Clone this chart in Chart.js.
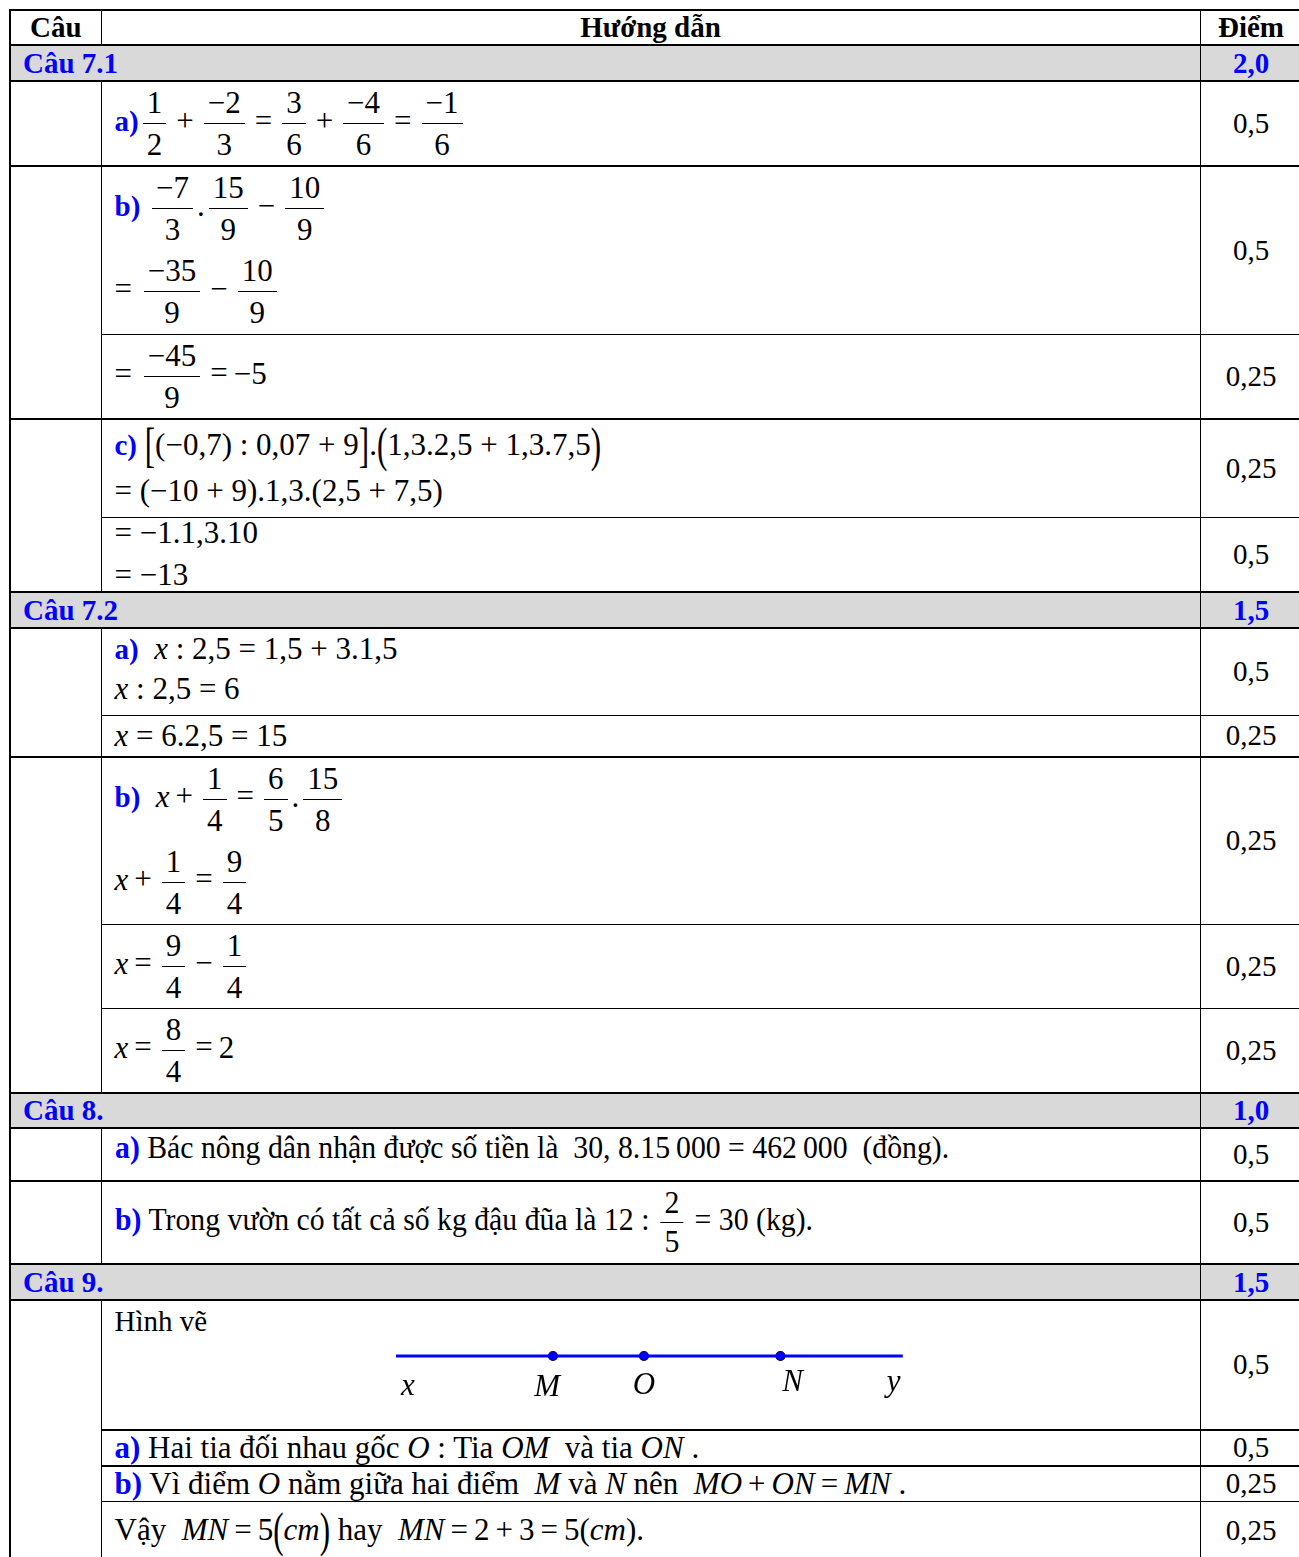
<!DOCTYPE html>
<html lang="vi">
<head>
  <meta charset="UTF-8" />
  <title>Hướng dẫn chấm</title>
  <script src="https://cdn.jsdelivr.net/npm/chart.js"></script>
  <style>
    body {
      margin: 0;
      font-family: "Liberation Serif", "Times New Roman", serif;
      font-size: 29px;
      color: #000;
      background: #fff;
    }

    table {
      position: absolute;
      left: 9px;
      top: 9px;
      width: 1292px;
      border-collapse: collapse;
      table-layout: fixed;
    }

    td {
      border: 1.5px solid #000;
      padding: 0 0 0 13px;
      vertical-align: middle;
      overflow: visible;
    }

    td.m { font-size: 31px; }

    td.pt {
      text-align: center;
      padding: 0;
    }

    tr.sec td {
      background: #d9d9d9;
      color: #0000ff;
      font-weight: bold;
      border-top: 2.5px solid #000;
      border-bottom: 2.5px solid #000;
      line-height: 30px;
      padding-left: 12px;
    }
    tr.sec td.pt { padding: 0; }

    tr.head td {
      font-weight: bold;
      text-align: center;
      border-top: 2.5px solid #000;
      padding: 0;
    }

    tr.top td { border-top: 2.5px solid #000; }
    td.c1 { border-left: 2px solid #000; }

    .lb { color: #0000ff; font-weight: bold; font-size: 29px; }

    .fr {
      display: inline-flex;
      flex-direction: column;
      align-items: center;
      vertical-align: middle;
      margin: 0 4px;
    }
    .fr > span { line-height: 41px; padding: 0 4px; }
    .fr > span:first-child { border-bottom: 1.5px solid #000; }
    .fr.sm > span { line-height: 38px; }

    .op { margin: 0 6px; }
    .big { display: inline-block; transform: scaleY(1.55); }
    .nar { display: inline-block; font-size: 31px; transform: scaleX(0.96); transform-origin: left center; white-space: nowrap; }
    .nar .lb, .wid .lb { font-size: 31px; }
    .wid { display: inline-block; font-size: 31px; white-space: nowrap; }

    td.fig { position: relative; vertical-align: top; padding-top: 4px; }
    #figBox {
      position: absolute;
      left: 279px;
      top: 15px;
      width: 540px;
      height: 100px;
    }
  </style>
</head>
<body>
  <table>
    <colgroup>
      <col style="width:91px" />
      <col style="width:1099px" />
      <col style="width:102px" />
    </colgroup>
    <tr class="head" style="height:35px">
      <td class="c1">Câu</td><td>Hướng dẫn</td><td>Điểm</td>
    </tr>

    <tr class="sec" style="height:36px">
      <td class="c1" colspan="2">Câu 7.1</td><td class="pt">2,0</td>
    </tr>
    <tr style="height:83px">
      <td class="c1"></td>
      <td class="m"><span class="lb">a)</span><span class="fr"><span>1</span><span>2</span></span><span class="op">+</span><span class="fr"><span>−2</span><span>3</span></span><span class="op">=</span><span class="fr"><span>3</span><span>6</span></span><span class="op">+</span><span class="fr"><span>−4</span><span>6</span></span><span class="op">=</span><span class="fr"><span>−1</span><span>6</span></span></td>
      <td class="pt">0,5</td>
    </tr>
    <tr class="top" style="height:168px">
      <td class="c1" rowspan="2"></td>
      <td class="m"><div><span class="lb">b)</span> <span class="fr"><span>−7</span><span>3</span></span>.<span class="fr"><span>15</span><span>9</span></span><span class="op">−</span><span class="fr"><span>10</span><span>9</span></span></div>
        <div>= <span class="fr"><span>−35</span><span>9</span></span><span class="op">−</span><span class="fr"><span>10</span><span>9</span></span></div></td>
      <td class="pt">0,5</td>
    </tr>
    <tr style="height:83px">
      <td class="m">= <span class="fr"><span>−45</span><span>9</span></span><span class="op">=</span>−5</td>
      <td class="pt">0,25</td>
    </tr>
    <tr class="top" style="height:99px">
      <td class="c1" rowspan="2"></td>
      <td class="m"><div style="line-height:46px"><span class="lb">c)</span> <span class="big">[</span>(−0,7) : 0,07 + 9<span class="big">]</span>.<span class="big">(</span>1,3.2,5 + 1,3.7,5<span class="big">)</span></div>
        <div style="line-height:46px">= (−10 + 9).1,3.(2,5 + 7,5)</div></td>
      <td class="pt">0,25</td>
    </tr>
    <tr style="height:74px">
      <td class="m"><div style="line-height:36px;position:relative;top:-3px">= −1.1,3.10</div><div style="line-height:36px;position:relative;top:3px">= −13</div></td>
      <td class="pt">0,5</td>
    </tr>

    <tr class="sec" style="height:36px">
      <td class="c1" colspan="2">Câu 7.2</td><td class="pt">1,5</td>
    </tr>
    <tr style="height:88px">
      <td class="c1" rowspan="2"></td>
      <td class="m" style="padding-bottom:6px"><div style="line-height:40px"><span class="lb">a)</span>&nbsp; <i>x</i> : 2,5 = 1,5 + 3.1,5</div><div style="line-height:40px"><i>x</i> : 2,5 = 6</div></td>
      <td class="pt">0,5</td>
    </tr>
    <tr style="height:41px">
      <td class="m"><i>x</i> = 6.2,5 = 15</td>
      <td class="pt">0,25</td>
    </tr>
    <tr class="top" style="height:167px">
      <td class="c1" rowspan="3"></td>
      <td class="m"><div><span class="lb">b)</span>&nbsp; <i>x</i><span class="op">+</span><span class="fr"><span>1</span><span>4</span></span><span class="op">=</span><span class="fr"><span>6</span><span>5</span></span>.<span class="fr"><span>15</span><span>8</span></span></div>
        <div><i>x</i><span class="op">+</span><span class="fr"><span>1</span><span>4</span></span><span class="op">=</span><span class="fr"><span>9</span><span>4</span></span></div></td>
      <td class="pt">0,25</td>
    </tr>
    <tr style="height:81px">
      <td class="m"><i>x</i><span class="op">=</span><span class="fr"><span>9</span><span>4</span></span><span class="op">−</span><span class="fr"><span>1</span><span>4</span></span></td>
      <td class="pt">0,25</td>
    </tr>
    <tr style="height:84px">
      <td class="m"><i>x</i><span class="op">=</span><span class="fr"><span>8</span><span>4</span></span><span class="op">=</span>2</td>
      <td class="pt">0,25</td>
    </tr>

    <tr class="sec" style="height:35px">
      <td class="c1" colspan="2">Câu 8.</td><td class="pt">1,0</td>
    </tr>
    <tr style="height:53px">
      <td class="c1"></td>
      <td style="vertical-align:top;padding-top:1px"><span class="nar"><span class="lb">a)</span> Bác nông dân nhận được số tiền là&nbsp; 30, 8.15&#8201;000 = 462&#8201;000&nbsp; (đồng).</span></td>
      <td class="pt">0,5</td>
    </tr>
    <tr class="top" style="height:83px">
      <td class="c1"></td>
      <td><span class="nar"><span class="lb">b)</span> Trong vườn có tất cả số kg đậu đũa là 12 : <span class="fr sm"><span>2</span><span>5</span></span> = 30 (kg).</span></td>
      <td class="pt">0,5</td>
    </tr>

    <tr class="sec" style="height:36px">
      <td class="c1" colspan="2">Câu 9.</td><td class="pt">1,5</td>
    </tr>
    <tr style="height:130px">
      <td class="c1" rowspan="4"></td>
      <td class="fig">Hình vẽ<div id="figBox"><canvas id="lineChart" width="540" height="100"></canvas></div></td>
      <td class="pt">0,5</td>
    </tr>
    <tr class="top" style="height:36px">
      <td style="line-height:34px"><span class="wid"><span class="lb">a)</span> Hai tia đối nhau gốc <i>O</i> : Tia <i>OM</i>&nbsp; và tia <i>ON</i> .</span></td>
      <td class="pt">0,5</td>
    </tr>
    <tr class="top" style="height:36px">
      <td style="line-height:34px"><span class="wid"><span class="lb">b)</span> Vì điểm <i>O</i> nằm giữa hai điểm&nbsp; <i>M</i> và <i>N</i> nên&nbsp; <i>MO</i><span class="op">+</span><i>ON</i><span class="op">=</span><i>MN</i> .</span></td>
      <td class="pt">0,25</td>
    </tr>
    <tr style="height:58px">
      <td style="vertical-align:top;padding-top:8px;line-height:40px"><span class="wid">Vậy&nbsp; <i>MN</i><span class="op">=</span>5<span class="big">(</span><i>cm</i><span class="big">)</span> hay&nbsp; <i>MN</i><span class="op">=</span>2<span class="op">+</span>3<span class="op">=</span>5(<i>cm</i>).</span></td>
      <td class="pt">0,25</td>
    </tr>
  </table>

  <script>
    // đường thẳng xy, gốc O = 0, MO = 2, ON = 3
    const rayEnds = [-5.45, 5.69];
    const pointNames = ['M', 'O', 'N'];
    const pointX = [-2, 0, 3];
    const tagNames = ['x', 'M', 'O', 'N', 'y'];
    const tagX = [-5.19, -2.13, 0, 3.27, 5.49];
    const tagDy = [31, 32, 30, 27, 27];

    const xMin = -5.78, xMax = 6.09;

    const tagPlugin = {
      id: 'tags',
      afterDatasetsDraw(chart) {
        const { ctx, scales } = chart;
        const y0 = scales.y.getPixelForValue(0);
        ctx.save();
        ctx.font = 'italic 31px "Liberation Serif", serif';
        ctx.fillStyle = '#000';
        ctx.textAlign = 'center';
        ctx.textBaseline = 'middle';
        tagNames.forEach((t, i) => {
          ctx.fillText(t, scales.x.getPixelForValue(tagX[i]), y0 + tagDy[i]);
        });
        ctx.restore();
      }
    };

    const ctx = document.getElementById('lineChart').getContext('2d');
    new Chart(ctx, {
      type: 'scatter',
      data: {
        datasets: [
          {
            label: 'xy',
            data: rayEnds.map(v => ({ x: v, y: 0 })),
            showLine: true,
            borderColor: '#0000ff',
            borderWidth: 3,
            pointRadius: 0
          },
          {
            label: 'points',
            data: pointX.map((v, i) => ({ x: v, y: 0, name: pointNames[i] })),
            pointRadius: 4.5,
            pointBackgroundColor: '#0000ff',
            pointBorderColor: '#0a0a40',
            pointBorderWidth: 1.2
          }
        ]
      },
      options: {
        responsive: false,
        animation: false,
        layout: { padding: 0, autoPadding: false },
        plugins: { legend: { display: false }, tooltip: { enabled: false } },
        scales: {
          x: { type: 'linear', min: xMin, max: xMax, display: false },
          y: { type: 'linear', min: -1.5, max: 1, display: false }
        }
      },
      plugins: [tagPlugin]
    });
  </script>
</body>
</html>
